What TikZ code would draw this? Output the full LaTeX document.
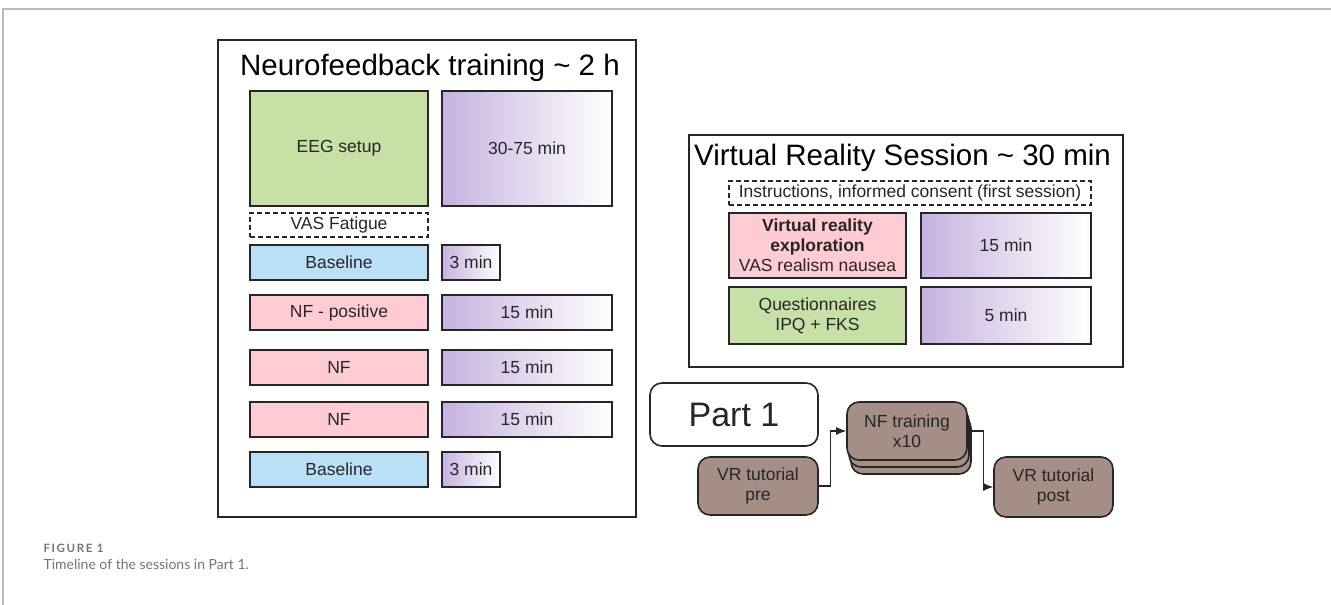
\documentclass[tikz,border=0pt]{standalone}
\usepackage{fontspec}
\setmainfont{Liberation Sans}
\newfontfamily\capfont{Lato}
\newfontfamily\caplabelfont[LetterSpace=14]{Lato}
\usetikzlibrary{arrows.meta}

\definecolor{eeggreen}{HTML}{C6E0A6}
\definecolor{nfpink}{HTML}{FFCCD3}
\definecolor{baseblue}{HTML}{BCDFF8}
\definecolor{durpurple}{HTML}{C6B3E0}
\definecolor{stepbrown}{HTML}{A48E85}
\definecolor{framegray}{HTML}{BBBBBB}
\definecolor{capgray}{HTML}{747474}

\begin{document}
\begin{tikzpicture}[x=1pt, y=-1pt]
    \tikzstyle{box}=[draw=black!85, line width=1.6pt, inner sep=0pt, align=center,
        text=black!85, font=\fontsize{17.5}{20}\selectfont]
    \tikzstyle{dur}=[box, left color=durpurple, right color=white]
    \tikzstyle{note}=[box, dashed, dash pattern=on 5pt off 3pt, line width=1.4pt]
    \tikzstyle{stepbox}=[box, fill=stepbrown, rounded corners=12pt,
        minimum width=120, minimum height=58]

    \useasboundingbox (0,0) rectangle (1331,605);

    % page frame
    \draw [framegray, line width=1.5pt] (3,605) -- (3,9) -- (1331,9);

    % Neurofeedback training
    \draw [black!85, line width=1.6pt] (218,40) rectangle (636,517);
    \node (nftitle) at (430,75) [anchor=base, font=\fontsize{29.5}{32}\selectfont]
        {Neurofeedback training \textasciitilde\ 2 h};

    \node (eeg) at (339,148.5) [box, fill=eeggreen, minimum width=178, minimum height=115] {EEG setup};
    \node (eeg-t) at (527,148.5) [dur, minimum width=170, minimum height=115] {30-75 min};
    \node (vas) at (339,225) [note, minimum width=178, minimum height=24] {VAS Fatigue};

    \node (base-1) at (339,262.5) [box, fill=baseblue, minimum width=178, minimum height=35] {Baseline};
    \node (base-1-t) at (471,262.5) [dur, minimum width=58, minimum height=35] {3 min};
    \node (nfpos) at (339,312.5) [box, fill=nfpink, minimum width=178, minimum height=35] {NF - positive};
    \node (nfpos-t) at (527,312.5) [dur, minimum width=170, minimum height=35] {15 min};
    \node (nf-1) at (339,367.5) [box, fill=nfpink, minimum width=178, minimum height=35] {NF};
    \node (nf-1-t) at (527,367.5) [dur, minimum width=170, minimum height=35] {15 min};
    \node (nf-2) at (339,419.5) [box, fill=nfpink, minimum width=178, minimum height=35] {NF};
    \node (nf-2-t) at (527,419.5) [dur, minimum width=170, minimum height=35] {15 min};
    \node (base-2) at (339,469.5) [box, fill=baseblue, minimum width=178, minimum height=35] {Baseline};
    \node (base-2-t) at (471,469.5) [dur, minimum width=58, minimum height=35] {3 min};

    % Virtual reality session
    \draw [black!85, line width=1.6pt] (689,135) rectangle (1123,367);
    \node (vrtitle) at (902.5,165) [anchor=base, font=\fontsize{29.5}{32}\selectfont]
        {Virtual Reality Session \textasciitilde\ 30 min};

    \node (instr) at (910,193) [note, minimum width=362, minimum height=24]
        {Instructions, informed consent (first session)};
    \node (vrexp) at (817.5,245.5) [box, fill=nfpink, minimum width=177, minimum height=65]
        {\textbf{Virtual reality}\\\textbf{exploration}\\VAS realism nausea};
    \node (vrexp-t) at (1006,245.5) [dur, minimum width=170, minimum height=65] {15 min};
    \node (quest) at (817.5,315.5) [box, fill=eeggreen, minimum width=177, minimum height=57]
        {Questionnaires\\IPQ + FKS};
    \node (quest-t) at (1006,315.5) [dur, minimum width=170, minimum height=57] {5 min};

    % Part 1 timeline
    \node (part1) at (734,414.5) [box, rounded corners=12pt, minimum width=168, minimum height=63,
        font=\fontsize{34}{36}\selectfont] {Part 1};

    \node (nftrain-back2) at (911,445) [stepbox] {};
    \node (nftrain-back1) at (909,438) [stepbox] {};
    \node (nftrain) at (907,431) [stepbox] {NF training\\x10};
    \node (pre) at (758,486) [stepbox] {VR tutorial\\pre};
    \node (post) at (1053.5,487) [stepbox, minimum width=119, minimum height=60] {VR tutorial\\post};

    \draw [-{Latex[length=10pt,width=8pt]}, black!85, line width=1.1pt]
        (pre.east) -- ++(12,0) |- (nftrain.west);
    \draw [-{Latex[length=10pt,width=8pt]}, black!85, line width=1.1pt]
        (nftrain.east) -- ++(16,0) |- (post.west);

    % caption
    \node (figlabel) at (40,552) [anchor=base west, text=capgray,
        font=\caplabelfont\bfseries\fontsize{11.5}{12}\selectfont] {FIGURE 1};
    \node (figcaption) at (40,569) [anchor=base west, text=capgray,
        font=\capfont\fontsize{14}{16}\selectfont] {Timeline of the sessions in Part 1.};
\end{tikzpicture}
\end{document}
